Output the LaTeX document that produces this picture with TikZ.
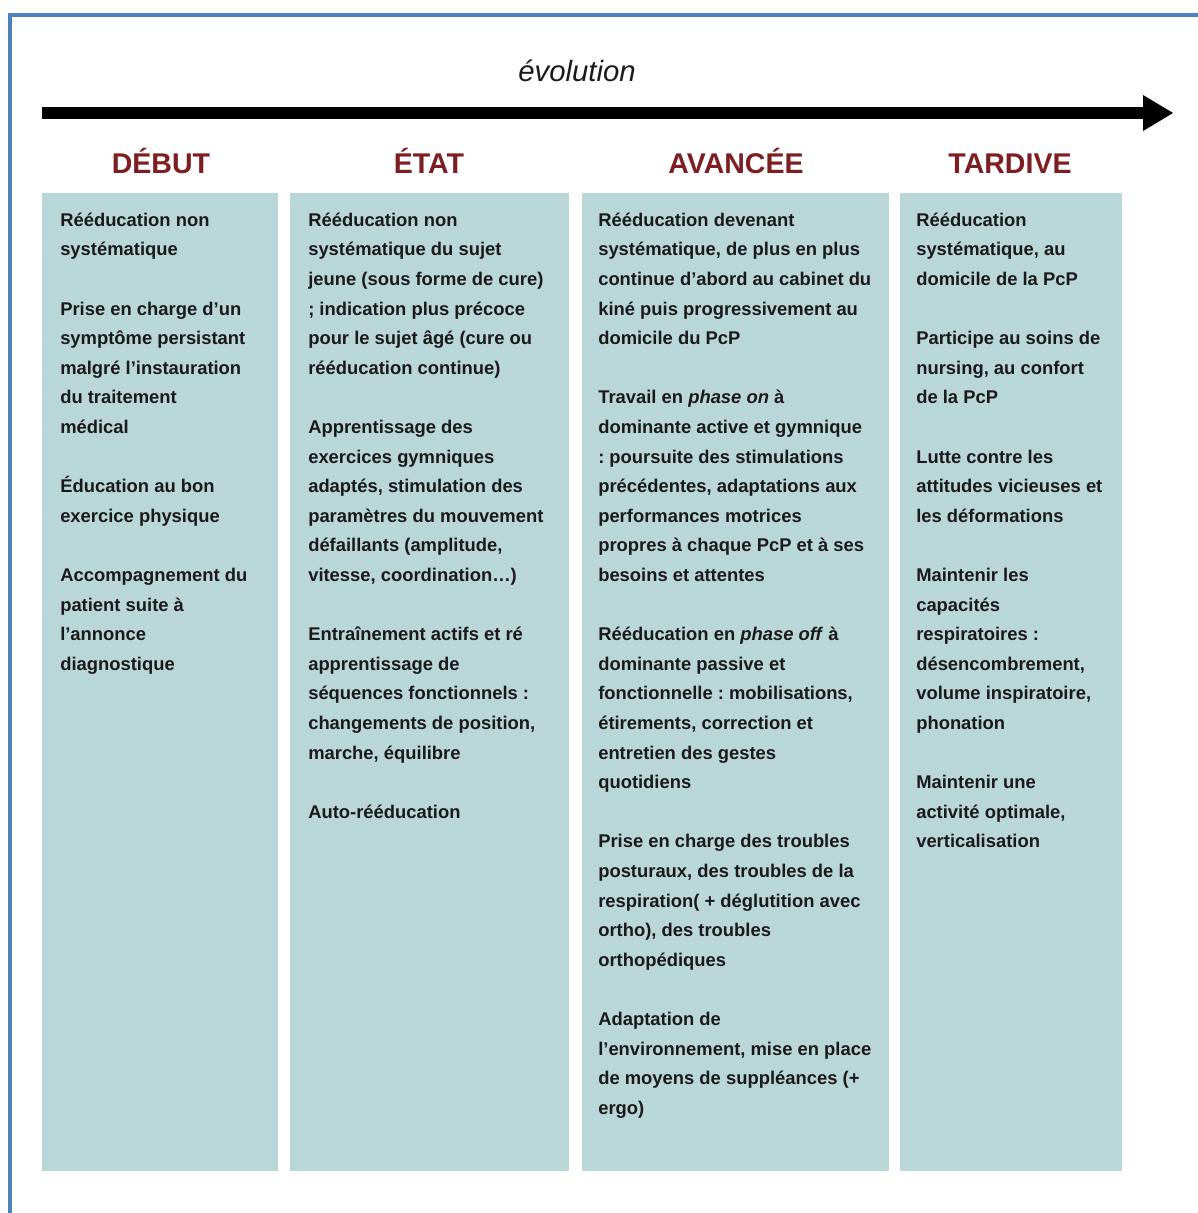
\documentclass[tikz,border=0pt]{standalone}
\usepackage{fontspec}
\setmainfont{Liberation Sans}
\definecolor{framecol}{HTML}{4F81BD}
\definecolor{colfill}{HTML}{BAD7D8}
\definecolor{headred}{HTML}{7D1E23}
\definecolor{bodytext}{HTML}{1A1A1A}
\newlength{\pitch}
\setlength{\pitch}{22.2pt}
\frenchspacing

\begin{document}
\begin{tikzpicture}[x=0.75pt,y=-0.75pt,
  panel/.style={fill=colfill, draw=none},
  phasehead/.style={font=\fontsize{21.4pt}{24pt}\selectfont\bfseries,
    text=headred, inner sep=0pt, anchor=base},
  bodytxt/.style={font=\fontsize{13.8pt}{22.2pt}\selectfont\bfseries,
    text=bodytext, align=left, inner sep=0pt, anchor=north west},
]
\useasboundingbox (0,0) rectangle (1198,1213);
\fill[white] (0,0) rectangle (1198,1213);

% outer frame (open at the right and bottom)
\draw[framecol, line width=2.4pt] (10,1213) -- (10,15) -- (1198,15);

% time axis
\node[font=\fontsize{22pt}{26pt}\selectfont\itshape, text=bodytext,
      anchor=base, inner sep=0pt] (evo) at (577,81) {évolution};
\coordinate (tstart) at (42,113);
\coordinate (tbase) at (1144,113);
\coordinate (ttip) at (1173,113);
\coordinate (tup) at (1143,95);
\coordinate (tdown) at (1143,131);
\draw[line width=9pt] (tstart) -- (tbase);
\fill (tup) -- (ttip) -- (tdown) -- cycle;

% phase headings
\node[phasehead] (hdebut)   at (161,173)  {DÉBUT};
\node[phasehead] (hetat)    at (429,173)  {ÉTAT};
\node[phasehead] (havancee) at (736,173)  {AVANCÉE};
\node[phasehead] (htardive) at (1010,173) {TARDIVE};

% column panels
\path[panel] (42,193)  rectangle (278,1171);
\path[panel] (290,193) rectangle (569,1171);
\path[panel] (582,193) rectangle (889,1171);
\path[panel] (900,193) rectangle (1122,1171);

% column texts
\node[bodytxt] (tdebut) at (60,205.3) {\strut Rééducation non\\
systématique\\[\pitch]
Prise en charge d’un\\
symptôme persistant\\
malgré l’instauration\\
du traitement\\
médical\\[\pitch]
Éducation au bon\\
exercice physique\\[\pitch]
Accompagnement du\\
patient suite à\\
l’annonce\\
diagnostique};

\node[bodytxt] (tetat) at (308,205.3) {\strut Rééducation non\\
systématique du sujet\\
jeune (sous forme de cure)\\
; indication plus précoce\\
pour le sujet âgé (cure ou\\
rééducation continue)\\[\pitch]
Apprentissage des\\
exercices gymniques\\
adaptés, stimulation des\\
paramètres du mouvement\\
défaillants (amplitude,\\
vitesse, coordination…)\\[\pitch]
Entraînement actifs et ré\\
apprentissage de\\
séquences fonctionnels :\\
changements de position,\\
marche, équilibre\\[\pitch]
Auto-rééducation};

\node[bodytxt] (tavancee) at (598,205.3) {\strut Rééducation devenant\\
systématique, de plus en plus\\
continue d’abord au cabinet du\\
kiné puis progressivement au\\
domicile du PcP\\[\pitch]
Travail en \textit{phase on} à\\
dominante active et gymnique\\
: poursuite des stimulations\\
précédentes, adaptations aux\\
performances motrices\\
propres à chaque PcP et à ses\\
besoins et attentes\\[\pitch]
Rééducation en \textit{phase off} à\\
dominante passive et\\
fonctionnelle : mobilisations,\\
étirements, correction et\\
entretien des gestes\\
quotidiens\\[\pitch]
Prise en charge des troubles\\
posturaux, des troubles de la\\
respiration( + déglutition avec\\
ortho), des troubles\\
orthopédiques\\[\pitch]
Adaptation de\\
l’environnement, mise en place\\
de moyens de suppléances (+\\
ergo)};

\node[bodytxt] (ttardive) at (916,205.3) {\strut Rééducation\\
systématique, au\\
domicile de la PcP\\[\pitch]
Participe au soins de\\
nursing, au confort\\
de la PcP\\[\pitch]
Lutte contre les\\
attitudes vicieuses et\\
les déformations\\[\pitch]
Maintenir les\\
capacités\\
respiratoires :\\
désencombrement,\\
volume inspiratoire,\\
phonation\\[\pitch]
Maintenir une\\
activité optimale,\\
verticalisation};
\end{tikzpicture}
\end{document}
